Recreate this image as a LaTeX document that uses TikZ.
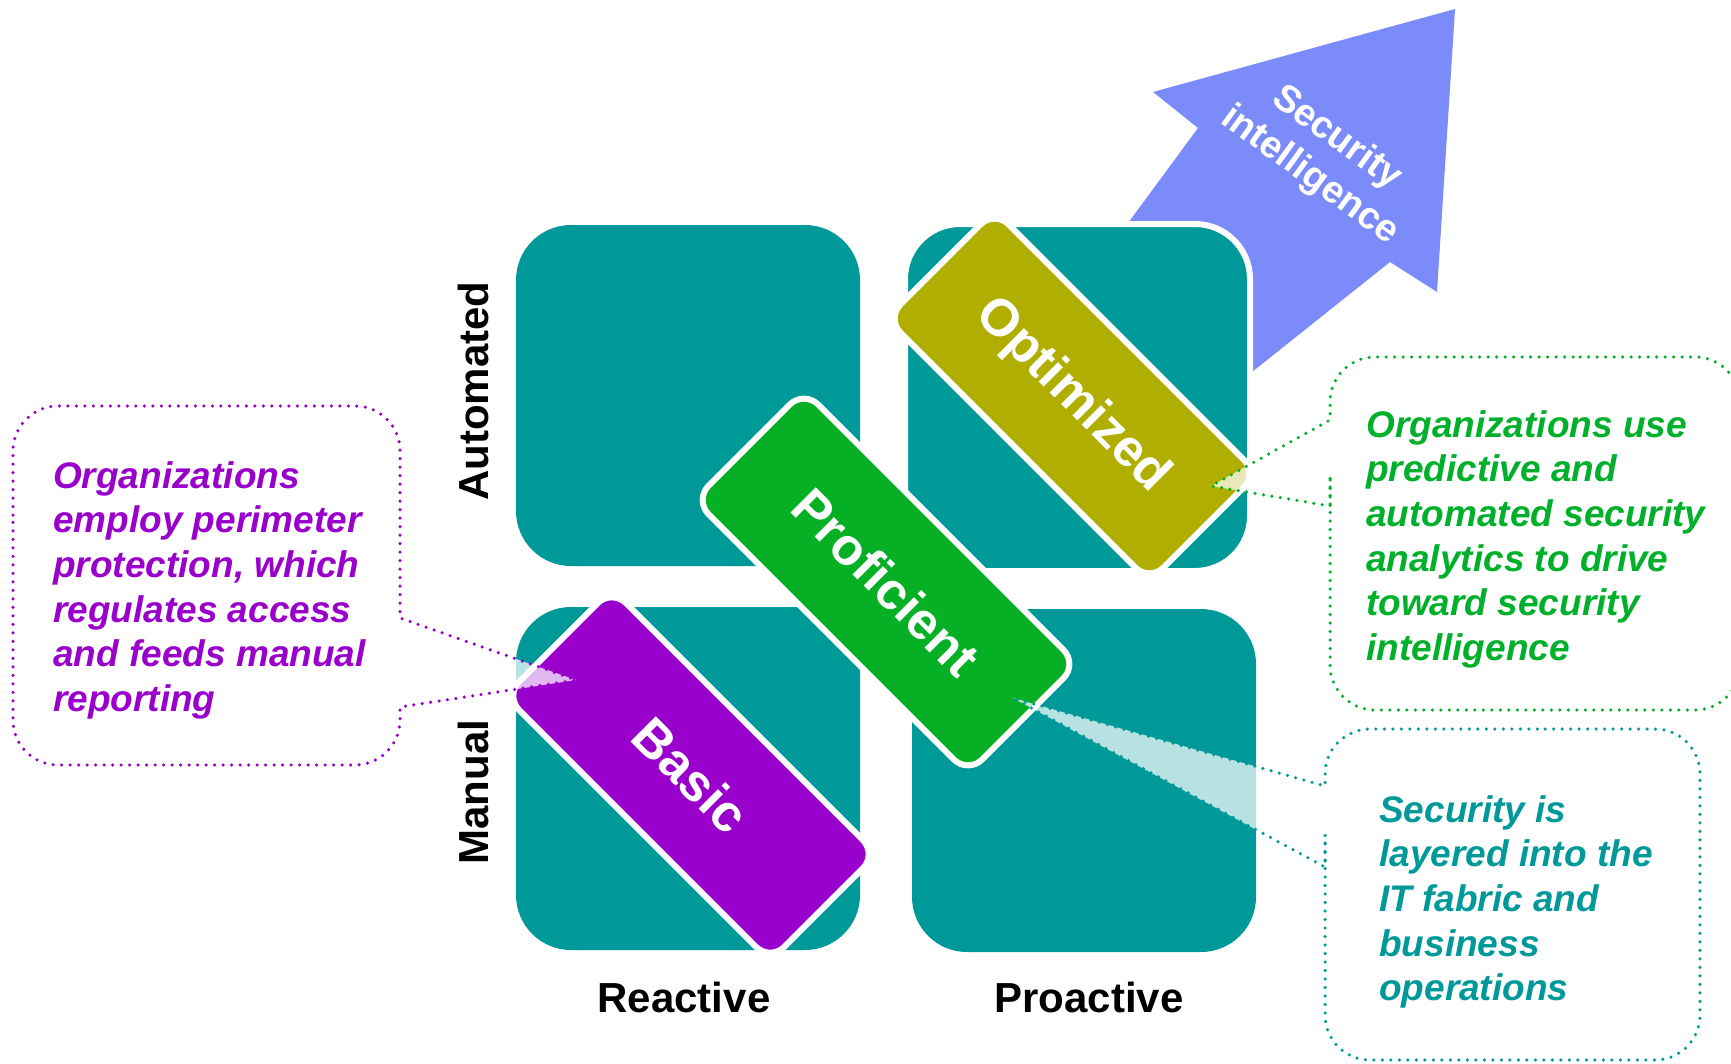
\documentclass[tikz,border=0pt]{standalone}
\usepackage{fontspec}
\setmainfont{Liberation Sans}
\definecolor{tealsq}{RGB}{0,153,153}
\definecolor{olivebar}{RGB}{176,174,0}
\definecolor{greenbar}{RGB}{5,176,37}
\definecolor{purplebar}{RGB}{153,0,204}
\definecolor{arrowblue}{RGB}{123,139,250}
\definecolor{greentext}{RGB}{0,176,42}
\definecolor{tealtext}{RGB}{0,153,153}
\begin{document}
\begin{tikzpicture}[x=1pt,y=-1pt,
  sq/.style={rectangle, fill=tealsq, rounded corners=55pt, inner sep=0pt},
  barbox/.style={rectangle, rounded corners=20pt, draw=white, line width=6pt, text=white,
    font=\fontsize{52}{60}\selectfont\bfseries, rotate=-45, inner sep=0pt},
  axislbl/.style={font=\fontsize{42}{50}\selectfont\bfseries, text=black, inner sep=0pt},
  callout/.style={line width=3.5pt, dash pattern=on 0pt off 8.5pt, line cap=round,
    fill=white, fill opacity=0.72, draw opacity=1},
  calltext/.style={font=\fontsize{37}{44.7}\selectfont\bfseries\itshape, align=left,
    anchor=north west, inner sep=0pt},
]
\useasboundingbox (0,0) rectangle (1731,1063);

% arrow
\path[fill=arrowblue] (1455,9) -- (1437,292) -- (1390,262) -- (1257,368) -- (1215,401)
  -- (1107,251) -- (1131,219) -- (1198,128) -- (1153,92) -- cycle;

% squares
\node[sq, minimum width=344pt, minimum height=341pt] (tl) at (688,395.5) {};
\node[sq, draw=white, line width=6pt, minimum width=345pt, minimum height=347pt] (tr) at (1077.5,397.5) {};
\node[sq, minimum width=344pt, minimum height=343pt] (bl) at (688,778.5) {};
\node[sq, minimum width=344pt, minimum height=343pt] (br) at (1084,780.5) {};

% bars
\node[barbox, fill=olivebar, minimum width=372pt, minimum height=153pt] (opt) at (1072,396) {Optimized};
\node[barbox, fill=greenbar, minimum width=387pt, minimum height=155pt] (prof) at (886,582) {Proficient};
\node[barbox, fill=purplebar, minimum width=375pt, minimum height=151pt] (basic) at (691,775) {Basic};

% callouts
\draw[callout, draw=purplebar] (13,560) [rounded corners=45pt] -- (13,406) -- (400,406) -- (400,560)
  [sharp corners] -- (400,618) -- (576,680) -- (400,707) -- (400,718)
  [rounded corners=45pt] -- (400,765) -- (13,765) -- cycle;
\draw[callout, draw=greentext] (1535,357) [rounded corners=45pt] -- (1740,357) -- (1740,710) -- (1330,710) -- (1330,520)
  [sharp corners] -- (1330,506) -- (1211,486) -- (1330,420) -- (1330,405)
  [rounded corners=45pt] -- (1330,357) -- cycle;
\draw[callout, draw=tealtext] (1500,729) [rounded corners=45pt] -- (1700,729) -- (1700,1060) -- (1325,1060) -- (1325,880)
  [sharp corners] -- (1325,867) -- (1013,698) -- (1325,786) -- (1325,776)
  [rounded corners=45pt] -- (1325,729) -- cycle;

% callout texts
\node[calltext, text=purplebar] (ptxt) at (53,461) {Organizations\\employ perimeter\\protection, which\\regulates access\\and feeds manual\\reporting};
\node[calltext, text=greentext] (gtxt) at (1366,410) {Organizations use\\predictive and\\automated security\\analytics to drive\\toward security\\intelligence};
\node[calltext, text=tealtext] (ttxt) at (1379,795) {Security is\\layered into the\\IT fabric and\\business\\operations};

% axis labels
\node[axislbl, rotate=90] (auto) at (473,391) {Automated};
\node[axislbl, rotate=90] (man) at (473,792) {Manual};
\node[axislbl] (react) at (684,997) {Reactive};
\node[axislbl] (proact) at (1089,997) {Proactive};

% arrow text
\node[font=\fontsize{38}{46}\selectfont\bfseries, text=white, align=center, rotate=-36, inner sep=0pt] (si) at (1323,157) {Security\\intelligence};
\end{tikzpicture}
\end{document}
